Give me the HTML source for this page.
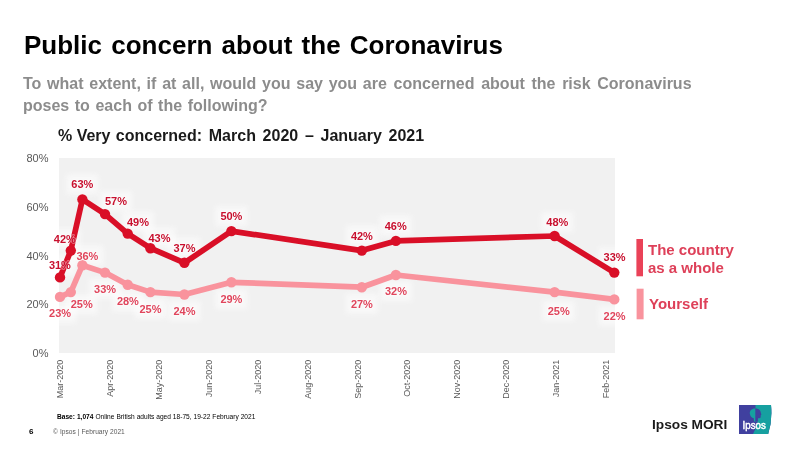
<!DOCTYPE html>
<html><head><meta charset="utf-8"><title>Public concern about the Coronavirus</title>
<style>
html,body{margin:0;padding:0;background:#fff;}
body{width:800px;height:450px;position:relative;overflow:hidden;font-family:"Liberation Sans",sans-serif;}
.abs{position:absolute;white-space:nowrap;will-change:transform;}
#title{left:23.6px;top:29px;font-size:26px;font-weight:bold;color:#000;line-height:32px;word-spacing:2px;}
#sub{left:22.6px;top:72.9px;font-size:16px;font-weight:bold;color:#8c8c8c;line-height:22px;}
#ctitle{left:58.3px;top:126.4px;font-size:16px;font-weight:bold;color:#1a1a1a;line-height:20px;}
svg{position:absolute;left:0;top:0;will-change:transform;}
svg text{font-family:"Liberation Sans",sans-serif;}
.dl{font-size:11px;font-weight:bold;}
.yl{font-size:11px;fill:#595959;}
.xl{font-size:9px;fill:#595959;}
#lg1{left:648px;top:240.6px;font-size:15px;font-weight:bold;color:#de4059;line-height:18px;}
#lg2{left:648.6px;top:295px;font-size:15px;font-weight:bold;color:#de4059;line-height:18px;}
#base{left:57px;top:413.2px;font-size:6.6px;color:#000;word-spacing:0.13px;}
#pg{left:28.6px;top:427px;font-size:8px;font-weight:bold;color:#000;}
#cp{left:53px;top:427.5px;font-size:6.6px;color:#595959;word-spacing:0.25px;}
#im{left:652px;top:415.9px;font-size:13.7px;font-weight:bold;color:#1a1a1a;line-height:18px;}
</style></head><body>
<div id="title" class="abs">Public concern about the Coronavirus</div>
<div id="sub" class="abs"><span style="word-spacing:1.3px">To what extent, if at all, would you say you </span><span style="word-spacing:2.25px">are concerned about the risk Coronavirus</span><br><span style="word-spacing:1.1px">poses to each of the following?</span></div>
<div id="ctitle" class="abs">% <span style="word-spacing:0.9px">Very </span><span style="word-spacing:2.25px">concerned: March 2020 – January 2021</span></div>
<svg width="800" height="450" viewBox="0 0 800 450">
<rect x="59.0" y="158.0" width="556.0" height="195.0" fill="#f1f1f1"/>
<defs><filter id="gl" x="-40%" y="-80%" width="180%" height="260%"><feGaussianBlur stdDeviation="2.8"/></filter><filter id="gs" x="-30%" y="-60%" width="160%" height="220%"><feGaussianBlur stdDeviation="0.7"/></filter></defs>
<rect x="44.1" y="303.2" width="32" height="20" fill="#fff" opacity="0.5" filter="url(#gl)"/>
<rect x="65.7" y="294.3" width="32" height="20" fill="#fff" opacity="0.5" filter="url(#gl)"/>
<rect x="71.4" y="245.60000000000002" width="32" height="20" fill="#fff" opacity="0.5" filter="url(#gl)"/>
<rect x="89.1" y="278.8" width="32" height="20" fill="#fff" opacity="0.5" filter="url(#gl)"/>
<rect x="111.9" y="291.4" width="32" height="20" fill="#fff" opacity="0.5" filter="url(#gl)"/>
<rect x="134.5" y="298.6" width="32" height="20" fill="#fff" opacity="0.5" filter="url(#gl)"/>
<rect x="168.5" y="301" width="32" height="20" fill="#fff" opacity="0.5" filter="url(#gl)"/>
<rect x="215.4" y="289.1" width="32" height="20" fill="#fff" opacity="0.5" filter="url(#gl)"/>
<rect x="345.9" y="293.7" width="32" height="20" fill="#fff" opacity="0.5" filter="url(#gl)"/>
<rect x="380" y="281.3" width="32" height="20" fill="#fff" opacity="0.5" filter="url(#gl)"/>
<rect x="542.7" y="301" width="32" height="20" fill="#fff" opacity="0.5" filter="url(#gl)"/>
<rect x="598.6" y="305.9" width="32" height="20" fill="#fff" opacity="0.5" filter="url(#gl)"/>
<rect x="43.9" y="255.39999999999998" width="32" height="20" fill="#fff" opacity="0.5" filter="url(#gl)"/>
<rect x="48.8" y="228.8" width="32" height="20" fill="#fff" opacity="0.5" filter="url(#gl)"/>
<rect x="66.3" y="174.4" width="32" height="20" fill="#fff" opacity="0.5" filter="url(#gl)"/>
<rect x="100" y="191" width="32" height="20" fill="#fff" opacity="0.5" filter="url(#gl)"/>
<rect x="122" y="211.6" width="32" height="20" fill="#fff" opacity="0.5" filter="url(#gl)"/>
<rect x="143.5" y="227.6" width="32" height="20" fill="#fff" opacity="0.5" filter="url(#gl)"/>
<rect x="168.5" y="237.6" width="32" height="20" fill="#fff" opacity="0.5" filter="url(#gl)"/>
<rect x="215.4" y="206.2" width="32" height="20" fill="#fff" opacity="0.5" filter="url(#gl)"/>
<rect x="345.9" y="225.6" width="32" height="20" fill="#fff" opacity="0.5" filter="url(#gl)"/>
<rect x="379.7" y="215.6" width="32" height="20" fill="#fff" opacity="0.5" filter="url(#gl)"/>
<rect x="541.3" y="212" width="32" height="20" fill="#fff" opacity="0.5" filter="url(#gl)"/>
<rect x="598.6" y="247.2" width="32" height="20" fill="#fff" opacity="0.5" filter="url(#gl)"/>
<polyline points="60.0,296.9 70.8,292.1 82.4,265.2 105.0,272.6 127.7,284.8 150.4,292.1 184.4,294.5 231.4,282.3 361.8,287.2 395.9,275.0 554.6,292.1 614.3,299.4" fill="none" stroke="#f9939d" stroke-width="5.7" stroke-linejoin="round" stroke-linecap="round"/>
<circle cx="60.0" cy="296.9" r="5.2" fill="#f9939d"/>
<circle cx="70.8" cy="292.1" r="5.2" fill="#f9939d"/>
<circle cx="82.4" cy="265.2" r="5.2" fill="#f9939d"/>
<circle cx="105.0" cy="272.6" r="5.2" fill="#f9939d"/>
<circle cx="127.7" cy="284.8" r="5.2" fill="#f9939d"/>
<circle cx="150.4" cy="292.1" r="5.2" fill="#f9939d"/>
<circle cx="184.4" cy="294.5" r="5.2" fill="#f9939d"/>
<circle cx="231.4" cy="282.3" r="5.2" fill="#f9939d"/>
<circle cx="361.8" cy="287.2" r="5.2" fill="#f9939d"/>
<circle cx="395.9" cy="275.0" r="5.2" fill="#f9939d"/>
<circle cx="554.6" cy="292.1" r="5.2" fill="#f9939d"/>
<circle cx="614.3" cy="299.4" r="5.2" fill="#f9939d"/>
<polyline points="60.0,277.4 70.8,250.6 82.4,199.4 105.0,214.1 127.7,233.6 150.4,248.2 184.4,262.8 231.4,231.1 361.8,250.6 395.9,240.9 554.6,236.0 614.3,272.6" fill="none" stroke="#d90f27" stroke-width="5.7" stroke-linejoin="round" stroke-linecap="round"/>
<circle cx="60.0" cy="277.4" r="5.2" fill="#d90f27"/>
<circle cx="70.8" cy="250.6" r="5.2" fill="#d90f27"/>
<circle cx="82.4" cy="199.4" r="5.2" fill="#d90f27"/>
<circle cx="105.0" cy="214.1" r="5.2" fill="#d90f27"/>
<circle cx="127.7" cy="233.6" r="5.2" fill="#d90f27"/>
<circle cx="150.4" cy="248.2" r="5.2" fill="#d90f27"/>
<circle cx="184.4" cy="262.8" r="5.2" fill="#d90f27"/>
<circle cx="231.4" cy="231.1" r="5.2" fill="#d90f27"/>
<circle cx="361.8" cy="250.6" r="5.2" fill="#d90f27"/>
<circle cx="395.9" cy="240.9" r="5.2" fill="#d90f27"/>
<circle cx="554.6" cy="236.0" r="5.2" fill="#d90f27"/>
<circle cx="614.3" cy="272.6" r="5.2" fill="#d90f27"/>
<text x="60.1" y="317.2" text-anchor="middle" class="dl" fill="none" stroke="#fff" stroke-width="1.6" stroke-linejoin="round" opacity="0.45" filter="url(#gs)">23%</text>
<text x="60.1" y="317.2" text-anchor="middle" class="dl" fill="#e0455c">23%</text>
<text x="81.7" y="308.3" text-anchor="middle" class="dl" fill="none" stroke="#fff" stroke-width="1.6" stroke-linejoin="round" opacity="0.45" filter="url(#gs)">25%</text>
<text x="81.7" y="308.3" text-anchor="middle" class="dl" fill="#e0455c">25%</text>
<text x="87.4" y="259.6" text-anchor="middle" class="dl" fill="none" stroke="#fff" stroke-width="1.6" stroke-linejoin="round" opacity="0.45" filter="url(#gs)">36%</text>
<text x="87.4" y="259.6" text-anchor="middle" class="dl" fill="#e0455c">36%</text>
<text x="105.1" y="292.8" text-anchor="middle" class="dl" fill="none" stroke="#fff" stroke-width="1.6" stroke-linejoin="round" opacity="0.45" filter="url(#gs)">33%</text>
<text x="105.1" y="292.8" text-anchor="middle" class="dl" fill="#e0455c">33%</text>
<text x="127.9" y="305.4" text-anchor="middle" class="dl" fill="none" stroke="#fff" stroke-width="1.6" stroke-linejoin="round" opacity="0.45" filter="url(#gs)">28%</text>
<text x="127.9" y="305.4" text-anchor="middle" class="dl" fill="#e0455c">28%</text>
<text x="150.5" y="312.6" text-anchor="middle" class="dl" fill="none" stroke="#fff" stroke-width="1.6" stroke-linejoin="round" opacity="0.45" filter="url(#gs)">25%</text>
<text x="150.5" y="312.6" text-anchor="middle" class="dl" fill="#e0455c">25%</text>
<text x="184.5" y="315" text-anchor="middle" class="dl" fill="none" stroke="#fff" stroke-width="1.6" stroke-linejoin="round" opacity="0.45" filter="url(#gs)">24%</text>
<text x="184.5" y="315" text-anchor="middle" class="dl" fill="#e0455c">24%</text>
<text x="231.4" y="303.1" text-anchor="middle" class="dl" fill="none" stroke="#fff" stroke-width="1.6" stroke-linejoin="round" opacity="0.45" filter="url(#gs)">29%</text>
<text x="231.4" y="303.1" text-anchor="middle" class="dl" fill="#e0455c">29%</text>
<text x="361.9" y="307.7" text-anchor="middle" class="dl" fill="none" stroke="#fff" stroke-width="1.6" stroke-linejoin="round" opacity="0.45" filter="url(#gs)">27%</text>
<text x="361.9" y="307.7" text-anchor="middle" class="dl" fill="#e0455c">27%</text>
<text x="396" y="295.3" text-anchor="middle" class="dl" fill="none" stroke="#fff" stroke-width="1.6" stroke-linejoin="round" opacity="0.45" filter="url(#gs)">32%</text>
<text x="396" y="295.3" text-anchor="middle" class="dl" fill="#e0455c">32%</text>
<text x="558.7" y="315" text-anchor="middle" class="dl" fill="none" stroke="#fff" stroke-width="1.6" stroke-linejoin="round" opacity="0.45" filter="url(#gs)">25%</text>
<text x="558.7" y="315" text-anchor="middle" class="dl" fill="#e0455c">25%</text>
<text x="614.6" y="319.9" text-anchor="middle" class="dl" fill="none" stroke="#fff" stroke-width="1.6" stroke-linejoin="round" opacity="0.45" filter="url(#gs)">22%</text>
<text x="614.6" y="319.9" text-anchor="middle" class="dl" fill="#e0455c">22%</text>
<text x="59.9" y="269.4" text-anchor="middle" class="dl" fill="none" stroke="#fff" stroke-width="1.6" stroke-linejoin="round" opacity="0.45" filter="url(#gs)">31%</text>
<text x="59.9" y="269.4" text-anchor="middle" class="dl" fill="#c8102e">31%</text>
<text x="64.8" y="242.8" text-anchor="middle" class="dl" fill="none" stroke="#fff" stroke-width="1.6" stroke-linejoin="round" opacity="0.45" filter="url(#gs)">42%</text>
<text x="64.8" y="242.8" text-anchor="middle" class="dl" fill="#c8102e">42%</text>
<text x="82.3" y="188.4" text-anchor="middle" class="dl" fill="none" stroke="#fff" stroke-width="1.6" stroke-linejoin="round" opacity="0.45" filter="url(#gs)">63%</text>
<text x="82.3" y="188.4" text-anchor="middle" class="dl" fill="#c8102e">63%</text>
<text x="116" y="205" text-anchor="middle" class="dl" fill="none" stroke="#fff" stroke-width="1.6" stroke-linejoin="round" opacity="0.45" filter="url(#gs)">57%</text>
<text x="116" y="205" text-anchor="middle" class="dl" fill="#c8102e">57%</text>
<text x="138" y="225.6" text-anchor="middle" class="dl" fill="none" stroke="#fff" stroke-width="1.6" stroke-linejoin="round" opacity="0.45" filter="url(#gs)">49%</text>
<text x="138" y="225.6" text-anchor="middle" class="dl" fill="#c8102e">49%</text>
<text x="159.5" y="241.6" text-anchor="middle" class="dl" fill="none" stroke="#fff" stroke-width="1.6" stroke-linejoin="round" opacity="0.45" filter="url(#gs)">43%</text>
<text x="159.5" y="241.6" text-anchor="middle" class="dl" fill="#c8102e">43%</text>
<text x="184.5" y="251.6" text-anchor="middle" class="dl" fill="none" stroke="#fff" stroke-width="1.6" stroke-linejoin="round" opacity="0.45" filter="url(#gs)">37%</text>
<text x="184.5" y="251.6" text-anchor="middle" class="dl" fill="#c8102e">37%</text>
<text x="231.4" y="220.2" text-anchor="middle" class="dl" fill="none" stroke="#fff" stroke-width="1.6" stroke-linejoin="round" opacity="0.45" filter="url(#gs)">50%</text>
<text x="231.4" y="220.2" text-anchor="middle" class="dl" fill="#c8102e">50%</text>
<text x="361.9" y="239.6" text-anchor="middle" class="dl" fill="none" stroke="#fff" stroke-width="1.6" stroke-linejoin="round" opacity="0.45" filter="url(#gs)">42%</text>
<text x="361.9" y="239.6" text-anchor="middle" class="dl" fill="#c8102e">42%</text>
<text x="395.7" y="229.6" text-anchor="middle" class="dl" fill="none" stroke="#fff" stroke-width="1.6" stroke-linejoin="round" opacity="0.45" filter="url(#gs)">46%</text>
<text x="395.7" y="229.6" text-anchor="middle" class="dl" fill="#c8102e">46%</text>
<text x="557.3" y="226" text-anchor="middle" class="dl" fill="none" stroke="#fff" stroke-width="1.6" stroke-linejoin="round" opacity="0.45" filter="url(#gs)">48%</text>
<text x="557.3" y="226" text-anchor="middle" class="dl" fill="#c8102e">48%</text>
<text x="614.6" y="261.2" text-anchor="middle" class="dl" fill="none" stroke="#fff" stroke-width="1.6" stroke-linejoin="round" opacity="0.45" filter="url(#gs)">33%</text>
<text x="614.6" y="261.2" text-anchor="middle" class="dl" fill="#c8102e">33%</text>
<text x="48.5" y="357.0" text-anchor="end" class="yl">0%</text>
<text x="48.5" y="308.2" text-anchor="end" class="yl">20%</text>
<text x="48.5" y="259.5" text-anchor="end" class="yl">40%</text>
<text x="48.5" y="210.8" text-anchor="end" class="yl">60%</text>
<text x="48.5" y="162.0" text-anchor="end" class="yl">80%</text>
<text transform="translate(63.2,359.7) rotate(-90)" text-anchor="end" class="xl">Mar-2020</text>
<text transform="translate(113.4,359.7) rotate(-90)" text-anchor="end" class="xl">Apr-2020</text>
<text transform="translate(162.0,359.7) rotate(-90)" text-anchor="end" class="xl">May-2020</text>
<text transform="translate(212.3,359.7) rotate(-90)" text-anchor="end" class="xl">Jun-2020</text>
<text transform="translate(260.9,359.7) rotate(-90)" text-anchor="end" class="xl">Jul-2020</text>
<text transform="translate(311.1,359.7) rotate(-90)" text-anchor="end" class="xl">Aug-2020</text>
<text transform="translate(361.3,359.7) rotate(-90)" text-anchor="end" class="xl">Sep-2020</text>
<text transform="translate(409.9,359.7) rotate(-90)" text-anchor="end" class="xl">Oct-2020</text>
<text transform="translate(460.1,359.7) rotate(-90)" text-anchor="end" class="xl">Nov-2020</text>
<text transform="translate(508.7,359.7) rotate(-90)" text-anchor="end" class="xl">Dec-2020</text>
<text transform="translate(559.0,359.7) rotate(-90)" text-anchor="end" class="xl">Jan-2021</text>
<text transform="translate(609.2,359.7) rotate(-90)" text-anchor="end" class="xl">Feb-2021</text>
<rect x="636.4" y="239" width="6.6" height="37.3" fill="#ea4258"/>
<rect x="636.6" y="288.7" width="7" height="30.6" fill="#f9939d"/>
<g id="logo">
<path d="M739 405 H771 Q772.6 420 768.2 434 H739 Z" fill="#40409f"/>
<path d="M755.5 405 H771 Q772.6 420 768.2 434 H753 Q756.5 428 757.6 421.5 H755.5 Z" fill="#16a0a0"/>
<path d="M755.6 408.4 C751.5 408.2 749.6 410.8 749.8 413.4 C750 416 751.8 417.6 753.8 418.2 L754 421.6 H755.6 Z" fill="#16a0a0"/>
<path d="M755.4 408.4 C759 408.3 760.8 410.6 760.8 412.8 L761.4 414.8 L760.7 415.3 L760.7 417.3 C760.2 418.5 758.8 418.4 758 418.3 L757.8 421.6 H755.4 Z" fill="#40409f"/>
<text transform="translate(742.6,429.2) scale(1,1.04)" x="0" y="0" style="font-size:9.7px;font-weight:normal;fill:#fff;stroke:#fff;stroke-width:0.45px;">Ipsos</text>
</g>
</svg>
<div id="lg1" class="abs">The country<br>as a whole</div>
<div id="lg2" class="abs">Yourself</div>
<div id="base" class="abs"><b>Base: 1,074</b> Online British adults aged 18-75, 19-22 February 2021</div>
<div id="pg" class="abs">6</div>
<div id="cp" class="abs">© Ipsos | February 2021</div>
<div id="im" class="abs">Ipsos MORI</div>
</body></html>
